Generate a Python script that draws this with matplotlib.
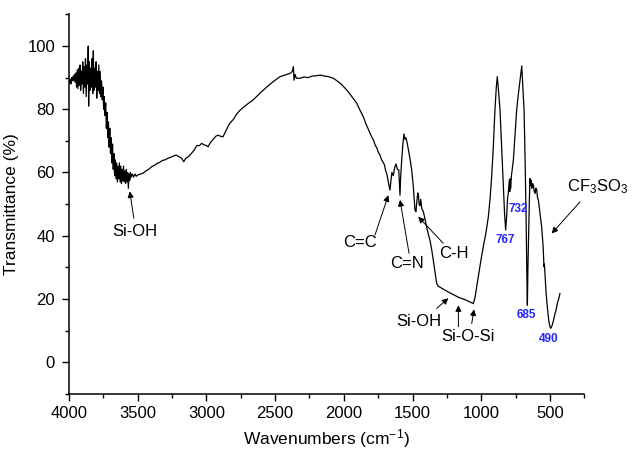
import matplotlib
matplotlib.use("Agg")
import matplotlib.pyplot as plt
from matplotlib.ticker import MultipleLocator

plt.rcParams["font.family"] = ["Liberation Sans", "DejaVu Sans"]
plt.rcParams["mathtext.default"] = "regular"

# FTIR spectrum
wavenumber = [
    4000, 3995, 3990, 3985, 3980, 3975, 3970, 3965, 3960, 3955, 3950, 3945,
    3940, 3935, 3930, 3925, 3920, 3915, 3910, 3905, 3900, 3895, 3890, 3885,
    3880, 3875, 3870, 3865, 3860, 3857, 3852, 3847, 3842, 3837, 3832, 3827,
    3823, 3818, 3813, 3808, 3803, 3798, 3793, 3788, 3783, 3778, 3773, 3768,
    3763, 3758, 3753, 3748, 3743, 3738, 3733, 3728, 3723, 3718, 3713, 3708,
    3703, 3698, 3693, 3688, 3683, 3678, 3673, 3668, 3663, 3658, 3653, 3648,
    3643, 3638, 3633, 3628, 3623, 3618, 3613, 3608, 3603, 3598, 3593, 3588,
    3583, 3578, 3573, 3568, 3563, 3558, 3553, 3548, 3540, 3530, 3520, 3510,
    3500, 3480, 3460, 3440, 3420, 3400, 3380, 3360, 3340, 3320,
    3300, 3280, 3260, 3240, 3220, 3200, 3180, 3165, 3150, 3130, 3110, 3090,
    3070, 3050, 3035, 3015, 3000, 2988, 2970, 2950, 2930, 2915, 2895, 2879,
    2860, 2840, 2828, 2800, 2780, 2755, 2720, 2690, 2661, 2630, 2600, 2559,
    2520, 2490, 2464, 2430, 2400, 2385, 2375, 2367, 2364, 2362, 2355, 2345,
    2319, 2290, 2260, 2230, 2200, 2173, 2140, 2110, 2076, 2050, 2020, 1979,
    1950, 1925, 1906, 1880, 1858, 1840, 1820, 1800, 1785, 1770, 1760, 1750,
    1737, 1725, 1715, 1705, 1695, 1688, 1680, 1672, 1664, 1658, 1650, 1640,
    1630, 1620, 1610, 1600, 1595, 1591, 1587, 1580, 1570, 1562, 1555, 1548,
    1538, 1525, 1515, 1506, 1495, 1489, 1482, 1475, 1468, 1462, 1458, 1452,
    1446, 1440, 1433, 1421, 1410, 1397, 1385, 1373, 1360, 1349, 1336, 1324,
    1312, 1280, 1240, 1200, 1160, 1120, 1080, 1057, 1045, 1021, 1003, 985,
    965, 948, 935, 924, 912, 900, 890, 883, 876, 863, 850, 839,
    830, 822, 815, 808, 803, 798, 795, 792, 789, 786, 780, 766,
    755, 742, 733, 723, 712, 705, 698, 692, 688, 681, 674, 668,
    664, 660, 654, 649, 645, 640, 636, 632, 626, 620, 614, 608,
    602, 596, 590, 584, 572, 560, 550, 545, 543, 540, 536, 528,
    519, 508, 500, 494, 485, 475, 463, 455, 446, 436, 427,
]
transmittance = [
    89, 88.5, 89.5, 88, 90, 89, 90.5, 89, 91, 88.5, 91.5, 87,
    92.5, 86.5, 93, 87.5, 94, 86, 92, 88, 95, 85, 93.5, 87,
    96, 84, 94, 88, 100, 81, 95, 86, 93, 87, 96, 85,
    98.5, 86, 93, 87, 95, 83.5, 92, 86, 94, 85, 92, 84,
    89, 83, 87, 80, 84, 78, 82, 74, 79, 71, 76, 68,
    74, 66, 71, 63, 69, 61, 66, 59, 64, 58, 63, 57,
    62, 58, 63, 57, 62, 56.5, 61, 57.5, 62, 57, 60.5, 56.5,
    61, 57, 60, 55, 59.5, 57.5, 60, 58.5, 59.5, 58.5, 59.5, 58.8,
    59.2, 59.5, 59.8, 60.5, 61, 61.8, 62.2, 62.8, 63.2, 63.8,
    64, 64.5, 64.8, 65.2, 65.5, 65, 64.5, 63.4, 64.5, 65, 66, 67,
    68.5, 68.5, 69.2, 68.7, 68.5, 68.1, 69.5, 70.5, 71.5, 71.8, 71.4, 71.3,
    73, 74.8, 75.6, 77, 78.5, 79.7, 81, 82, 82.9, 84.2, 85.5, 87.1,
    88.5, 89.5, 90.3, 90.8, 91.2, 91.5, 92, 93.5, 91, 89.2, 91, 89.8,
    89.8, 90.2, 90, 90.5, 90.6, 90.8, 90.5, 90.3, 89.8, 89, 88, 86.1,
    84.5, 83, 81.9, 79.5, 77.6, 75.5, 73.5, 71.5, 70.3, 68.5, 67.8, 66.5,
    65.5, 64, 63.3, 62.5, 60.5, 59.7, 58, 56, 54.4, 57, 60, 59,
    61.5, 62.7, 61, 60.8, 56, 52.8, 58, 63, 69, 72.2, 70.5, 71,
    69.2, 66, 63.5, 60.8, 56, 52.5, 48.1, 47.6, 51, 53.5, 53.4, 50,
    49.5, 51.5, 48.6, 47.6, 45.5, 42.8, 40.5, 38.6, 35.5, 32.3, 28.5, 24.9,
    24.0, 23.2, 22.2, 21.3, 20.4, 19.8, 19.0, 18.5, 20.5, 27, 32, 36.5,
    41, 46, 52, 58.6, 68, 79.7, 87, 90.3, 87, 79.7, 67, 55.5,
    47, 41.8, 46, 52, 53.4, 56, 57.6, 54, 58, 55, 59, 63.9,
    71, 79.7, 83.5, 87.1, 91, 93.7, 88, 83, 79.7, 65, 48.1, 28,
    18, 30, 42.8, 52, 58.1, 56, 57.5, 55, 56.5, 56, 54, 53.4,
    55, 54.4, 52, 51.3, 47, 42.8, 37, 32, 30.2, 31, 28.1, 22,
    17.5, 13, 11.2, 10.7, 11.5, 13, 15.4, 16.5, 18.6, 20, 21.7,
]

# band assignments: (text, text position, arrow tail, arrow tip)
bands = [
    ("Si-OH", (3520, 41.2), (3528, 45.5), (3558, 54.0)),
    ("C=C", (1880, 37.7), (1773, 40.2), (1676, 52.8)),
    ("C=N", (1540, 31.2), (1525, 34.4), (1591, 51.3)),
    ("C-H", (1198, 34.3), (1276, 37.6), (1458, 46.0)),
    ("Si-OH", (1453, 12.8), (1324, 17.0), (1239, 20.2)),
    ("Si-O-Si", (1099, 8.1), (1166, 11.2), (1166, 18.0)),
    ("", (1060, 12.2), (1069, 12.2), (1052, 16.7)),
    ("CF$_3$SO$_3$", (155, 55.4), (281, 50.7), (487, 40.7)),
]
peak_labels = ["767", "732", "685", "490"]
peak_pos = [(827, 38.6), (730, 48.3), (669, 14.9), (511, 7.2)]


def main() -> None:
    fig = plt.figure(figsize=(6.33, 4.5), dpi=100)
    ax = fig.add_axes([0.109, 0.125, 0.814, 0.843])

    ax.plot(wavenumber, transmittance, color="black", lw=0.9)

    ax.set_xlim(4000, 250)
    ax.set_ylim(-10, 110)
    ax.xaxis.set_major_locator(MultipleLocator(500))
    ax.xaxis.set_minor_locator(MultipleLocator(250))
    ax.set_yticks([0, 20, 40, 60, 80, 100])
    ax.yaxis.set_minor_locator(MultipleLocator(10))
    ax.tick_params(which="both", direction="out", labelsize=12, width=1)
    ax.tick_params(which="major", length=5)
    ax.tick_params(which="minor", length=3)
    ax.tick_params(axis="y", pad=5)
    ax.tick_params(axis="x", pad=4)
    for side in ("top", "right"):
        ax.spines[side].set_visible(False)
    for side in ("left", "bottom"):
        ax.spines[side].set_linewidth(1.1)

    ax.set_xlabel("Wavenumbers (cm$^{-1}$)", fontsize=12.5, labelpad=4)
    ax.set_ylabel("Transmittance (%)", fontsize=12.5, labelpad=6)

    arrow = dict(arrowstyle="-|>", color="black", lw=0.7, mutation_scale=9,
                 shrinkA=0, shrinkB=0)
    for text, text_pos, tail, tip in bands:
        if text:
            ax.text(*text_pos, text, ha="center", va="center", fontsize=12,
                    clip_on=False)
        ax.annotate("", xy=tip, xytext=tail, arrowprops=arrow,
                    annotation_clip=False)

    for label, (x, y) in zip(peak_labels, peak_pos):
        ax.text(x, y, label, color="#2323ff", fontsize=8.5, fontweight="bold",
                ha="center", va="center")

    fig.savefig("out.png", dpi=100)


if __name__ == "__main__":
    main()
